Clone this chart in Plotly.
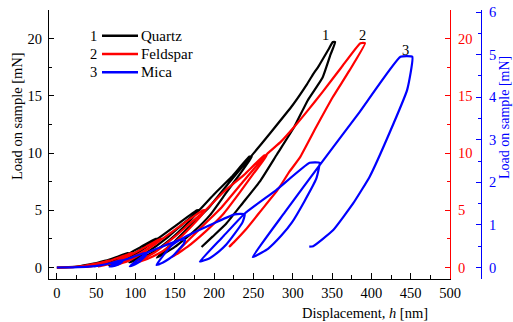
import plotly.graph_objects as go

# ---------------- data ----------------
# Quartz (left axis, mN) - multi-cycle load/unload
quartz_h = [0, 15, 30, 45, 55, 62, 64, 55, 45, 36, 33,
            40, 50, 62, 76, 89, 91, 80, 68, 55, 47,
            60, 75, 91, 108, 126, 128, 115, 100, 84, 72, 66,
            85, 105, 128, 152, 178, 181, 165, 145, 125, 105, 92,
            115, 140, 160, 181, 200, 222, 245, 248, 232, 215, 195, 175, 150, 127,
            150, 172, 194, 220, 248, 272, 300, 318, 326, 333, 345, 351, 354,
            348, 338, 319, 302, 280, 258, 236, 215, 198, 184]
quartz_p = [0, 0.03, 0.13, 0.32, 0.48, 0.6, 0.6, 0.38, 0.18, 0.07, 0.05,
            0.13, 0.3, 0.58, 0.92, 1.25, 1.25, 0.85, 0.48, 0.2, 0.11,
            0.33, 0.68, 1.2, 1.85, 2.5, 2.5, 1.85, 1.15, 0.55, 0.3, 0.22,
            0.75, 1.5, 2.5, 3.7, 5.0, 5.0, 3.8, 2.5, 1.45, 0.75, 0.45,
            1.35, 2.6, 3.8, 5.0, 6.4, 7.9, 9.7, 9.7, 8.1, 6.5, 4.6, 3.2, 1.8, 0.86,
            2.3, 3.8, 5.3, 7.5, 9.8, 11.8, 14.2, 16.0, 16.9, 17.6, 19.0, 19.7, 19.7,
            18.6, 16.6, 14.6, 12.3, 9.9, 7.5, 5.6, 3.8, 2.7, 1.8]

# Feldspar (red axis, mN)
feldspar_h = [0, 20, 35, 50, 60, 66, 68, 58, 48, 40, 37,
              45, 56, 68, 81, 94, 96, 85, 73, 60, 54,
              68, 83, 97, 114, 132, 134, 121, 106, 90, 79, 75,
              92, 112, 134, 160, 186, 189, 174, 155, 135, 115, 102,
              125, 150, 170, 189, 212, 238, 264, 267, 250, 232, 212, 190, 166, 147,
              166, 188, 210, 238, 267, 285, 302, 320, 338, 362, 386, 392,
              372, 351, 330, 309, 296, 281, 260, 240, 225, 219]
feldspar_p = [0, 0.04, 0.16, 0.34, 0.5, 0.6, 0.6, 0.38, 0.18, 0.08, 0.05,
              0.12, 0.3, 0.6, 0.93, 1.25, 1.25, 0.85, 0.48, 0.2, 0.11,
              0.33, 0.7, 1.2, 1.85, 2.5, 2.5, 1.85, 1.15, 0.55, 0.3, 0.22,
              0.75, 1.5, 2.5, 3.8, 5.0, 5.0, 3.8, 2.5, 1.45, 0.75, 0.45,
              1.35, 2.7, 3.9, 5.0, 6.6, 8.1, 9.8, 9.8, 8.2, 6.5, 4.7, 3.2, 1.8, 0.94,
              2.3, 3.8, 5.3, 7.6, 9.9, 11.0, 12.3, 13.8, 15.35, 17.5, 19.6, 19.6,
              17.2, 14.9, 12.3, 9.6, 8.4, 6.8, 5.0, 3.3, 2.2, 1.8]

# Mica (blue axis, mN)
mica_h = [0, 20, 40, 55, 68, 80, 84, 82, 78, 73, 67,
          76, 84, 96, 109, 114, 112.9, 109.3, 105.3, 101.9, 97.6, 92.7,
          103, 114, 135, 157, 163, 161.2, 155, 148.1, 142.3, 135, 126.7,
          145, 163, 195, 226, 239, 236.1, 226.4, 215.5, 206.3, 194.9, 184, 181.7,
          210, 239, 279, 321.5, 334, 329.8, 315.3, 299, 285.5, 268.5, 252.4, 249,
          290, 334, 385, 437, 452, 445.6, 423, 398, 377, 351.5, 326, 321]
mica_p = [0, 0.005, 0.02, 0.05, 0.1, 0.16, 0.16, 0.12, 0.07, 0.04, 0.02,
          0.1, 0.17, 0.24, 0.33, 0.33, 0.28, 0.21, 0.14, 0.1, 0.06, 0.03,
          0.18, 0.34, 0.5, 0.65, 0.65, 0.55, 0.42, 0.28, 0.2, 0.12, 0.06,
          0.5, 0.72, 1.0, 1.25, 1.25, 1.06, 0.8, 0.54, 0.38, 0.225, 0.15, 0.14,
          0.7, 1.27, 1.82, 2.46, 2.46, 2.08, 1.57, 1.06, 0.75, 0.44, 0.27, 0.25,
          1.3, 2.4, 3.65, 4.95, 4.95, 4.18, 3.16, 2.14, 1.51, 0.88, 0.5, 0.49]

series_names = ["Quartz", "Feldspar", "Mica"]
series_numbers = ["1", "2", "3"]
series_colors = ["#000000", "#ff0000", "#0000ff"]

x_ticks = [0, 50, 100, 150, 200, 250, 300, 350, 400, 450, 500]
left_ticks = [0, 5, 10, 15, 20]
blue_ticks = [0, 1, 2, 3, 4, 5, 6]

# curve end labels (data coords, left axis)
label_x = [342, 389, 443]
label_y = [20.3, 20.3, 19.0]

# ---------------- figure ----------------
FONT = "Liberation Serif"
W, H = 513, 322
ML, MR, MT, MB = 49, 10, 10, 43
PW = W - ML - MR
PH = H - MT - MB
XEND = (450 - ML) / PW
BLUEPOS = (481 - ML) / PW


def px_x(p):
    return (p - ML) / PW


def px_y(p):
    return (H - MB - p) / PH


fig = go.Figure()
fig.add_trace(go.Scatter(x=quartz_h, y=quartz_p, mode="lines", name=series_names[0],
                         line=dict(color=series_colors[0], width=2.2, shape="spline", smoothing=0.4),
                         yaxis="y"))
fig.add_trace(go.Scatter(x=feldspar_h, y=feldspar_p, mode="lines", name=series_names[1],
                         line=dict(color=series_colors[1], width=2.2, shape="spline", smoothing=0.4),
                         yaxis="y2"))
fig.add_trace(go.Scatter(x=mica_h, y=mica_p, mode="lines", name=series_names[2],
                         line=dict(color=series_colors[2], width=2.2, shape="spline", smoothing=0.4),
                         yaxis="y3"))

tickfont = dict(family=FONT, size=14.5, color="black")

fig.update_layout(
    width=W, height=H,
    margin=dict(l=ML, r=MR, t=MT, b=MB, pad=0, autoexpand=False),
    paper_bgcolor="white", plot_bgcolor="white",
    font=dict(family=FONT, size=14.5, color="black"),
    showlegend=False,
    xaxis=dict(domain=[0, XEND], range=[-10, 500], tickvals=x_ticks, automargin=False,
               showline=True, linecolor="black", linewidth=1.3,
               ticks="inside", ticklen=6, tickwidth=1.2, tickcolor="black",
               minor=dict(ticks="inside", ticklen=4, dtick=25, tick0=0, tickcolor="black", tickwidth=1.2),
               showgrid=False, zeroline=False, tickfont=tickfont, anchor="y"),
    yaxis=dict(range=[-1, 22.5], tickvals=left_ticks, automargin=False,
               showline=True, linecolor="black", linewidth=1.3,
               ticks="inside", ticklen=5, tickwidth=1.2, tickcolor="black",
               minor=dict(ticks="inside", ticklen=3, dtick=2.5, tick0=0, tickcolor="black", tickwidth=1.2),
               showgrid=False, zeroline=False, tickfont=tickfont, ticklabelstandoff=3),
    yaxis2=dict(range=[-1, 22.5], tickvals=left_ticks, overlaying="y", side="right", anchor="x",
                automargin=False,
                showline=True, linecolor="#ff0000", linewidth=1.3,
                ticks="inside", ticklen=5, tickwidth=1.2, tickcolor="#ff0000",
                minor=dict(ticks="inside", ticklen=3, dtick=2.5, tick0=0, tickcolor="#ff0000", tickwidth=1.2),
                showgrid=False, zeroline=False,
                tickfont=dict(family=FONT, size=14.5, color="#ff0000"), ticklabelstandoff=4),
    yaxis3=dict(range=[-0.27, 6.05], tickvals=blue_ticks, overlaying="y", side="right",
                anchor="free", position=BLUEPOS, automargin=False,
                showline=True, linecolor="#0000ff", linewidth=1.3,
                ticks="inside", ticklen=5, tickwidth=1.2, tickcolor="#0000ff",
                minor=dict(ticks="inside", ticklen=3, dtick=0.5, tick0=0, tickcolor="#0000ff", tickwidth=1.2),
                showgrid=False, zeroline=False,
                tickfont=dict(family=FONT, size=14.5, color="#0000ff"), ticklabelstandoff=4),
)

ann = []
shapes = []
# axis titles
ann.append(dict(text="Load on sample [mN]", xref="paper", yref="paper",
                x=px_x(17), y=px_y(116), textangle=-90,
                showarrow=False, xanchor="center", yanchor="middle",
                font=dict(family=FONT, size=14.5, color="black")))
ann.append(dict(text="Load on sample [mN]", xref="paper", yref="paper",
                x=px_x(505), y=px_y(118), textangle=-90,
                showarrow=False, xanchor="center", yanchor="middle",
                font=dict(family=FONT, size=14, color="#0000ff")))
ann.append(dict(text="Displacement, <i>h</i> [nm]", xref="paper", yref="paper",
                x=px_x(365), y=px_y(313),
                showarrow=False, xanchor="center", yanchor="middle",
                font=dict(family=FONT, size=14.5, color="black")))
# legend (number, line sample, name)
for i, (num, name, col) in enumerate(zip(series_numbers, series_names, series_colors)):
    yy = px_y(35.7 + 18.3 * i)
    ann.append(dict(text=num, xref="paper", yref="paper", x=px_x(93), y=yy,
                    showarrow=False, xanchor="center", yanchor="middle",
                    font=dict(family=FONT, size=14.5, color="black")))
    ann.append(dict(text=name, xref="paper", yref="paper", x=px_x(139), y=yy,
                    showarrow=False, xanchor="left", yanchor="middle",
                    font=dict(family=FONT, size=15, color="black")))
    shapes.append(dict(type="line", xref="paper", yref="paper",
                       x0=px_x(102), x1=px_x(138), y0=yy, y1=yy,
                       line=dict(color=col, width=2.4)))
# curve labels
for num, lx, ly in zip(series_numbers, label_x, label_y):
    ann.append(dict(text=num, xref="x", yref="y", x=lx, y=ly,
                    showarrow=False, xanchor="center", yanchor="middle",
                    font=dict(family=FONT, size=14.5, color="black")))
fig.update_layout(annotations=ann, shapes=shapes)

fig.write_html("out.html", config={"displayModeBar": False},
               post_script="document.body.style.margin='0';")
